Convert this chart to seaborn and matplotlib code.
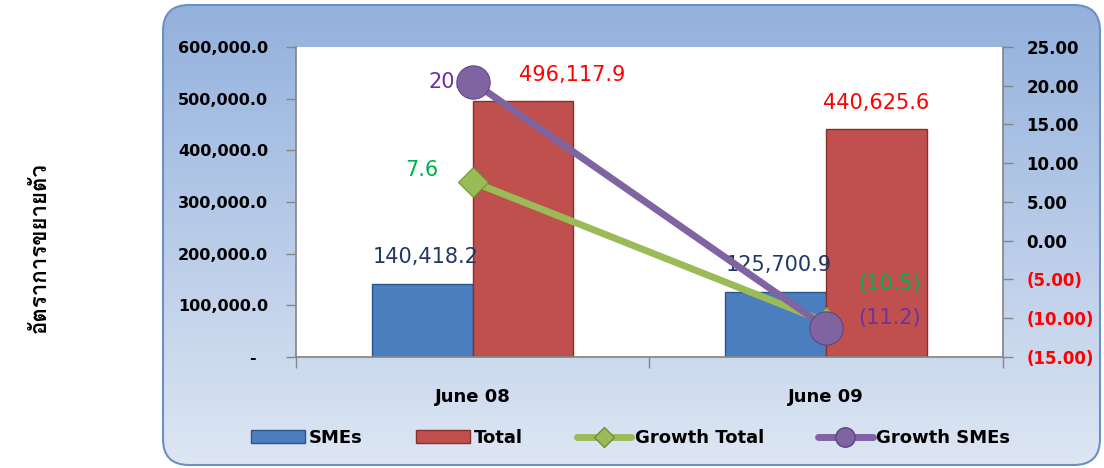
import numpy as np
import pandas as pd
import matplotlib
matplotlib.use("Agg")
import matplotlib.pyplot as plt
import seaborn as sns
from matplotlib import font_manager
from matplotlib.ft2font import FT2Font
from matplotlib.patches import FancyBboxPatch, Patch
from matplotlib.lines import Line2D
from matplotlib.colors import LinearSegmentedColormap

# data
months = ["June 08", "June 09"]
smes = [140418.2, 125700.9]
total = [496117.9, 440625.6]
growth_total = [7.6, -10.5]
growth_smes = [20.5, -11.2]
left_ticks = [0, 100000, 200000, 300000, 400000, 500000, 600000]
right_ticks = [-15, -10, -5, 0, 5, 10, 15, 20, 25]
y_title = "อัตราการขยายตัว"
legend_labels = ["SMEs", "Total", "Growth Total", "Growth SMEs"]

sns.set_theme(style="white")
plt.rcParams['font.family'] = ['DejaVu Sans']
for key in ['text.color', 'xtick.color', 'ytick.color', 'axes.labelcolor']:
    plt.rcParams[key] = 'black'

BLUE, RED = "#4a7ebf", "#c0504d"
GREEN, PURPLE = "#9bbb59", "#8064a2"
GRAY = "#868686"


def thai_family():
    # look for any installed font that carries Thai glyphs
    need = [ord(c) for c in set(y_title)]
    for f in font_manager.fontManager.ttflist:
        try:
            cmap = FT2Font(f.fname).get_charmap()
        except Exception:
            continue
        if all(c in cmap for c in need):
            return f.name
    return None


def pct(v):
    return f"({abs(v):.1f})" if v < 0 else f"{v:.1f}"


fig = plt.figure(figsize=(11.04, 4.68), dpi=100)

# --- rounded gradient panel behind the chart ---
bg = fig.add_axes([0, 0, 1, 1], zorder=-10)
bg.set_xlim(0, 1104)
bg.set_ylim(468, 0)
bg.axis('off')
box = FancyBboxPatch((163, 5), 937, 460, boxstyle="round,pad=0,rounding_size=26",
                     facecolor="none", edgecolor="#6d8fc7", lw=1.5, zorder=2)
bg.add_patch(box)
cmap = LinearSegmentedColormap.from_list("panel", ["#93b1dd", "#dde6f3"])
im = bg.imshow(np.linspace(0, 1, 256).reshape(-1, 1), extent=(163, 1100, 465, 5),
               aspect='auto', cmap=cmap, zorder=1)
im.set_clip_path(box)

# --- bars ---
ax = fig.add_axes([0.268, 0.2372, 0.6405, 0.6624])
ax.set_facecolor("white")
df = pd.DataFrame({
    "Month": months * 2,
    "Series": ["SMEs"] * len(months) + ["Total"] * len(months),
    "Value": smes + total,
})
sns.barplot(data=df, x="Month", y="Value", hue="Series", hue_order=["SMEs", "Total"],
            palette={"SMEs": BLUE, "Total": RED}, width=0.57, gap=0,
            saturation=1, legend=False, ax=ax)
for cont, ec in zip(ax.containers, ["#2c5587", "#8a2e2c"]):
    for p in cont:
        p.set_edgecolor(ec)
        p.set_linewidth(1)

ax.set_ylim(0, 600000)
ax.set_yticks(left_ticks)
ax.set_yticklabels(["-  " if v == 0 else f"{v:,.1f}" for v in left_ticks],
                   fontweight='bold', fontsize=11.5)
ax.tick_params(axis='y', length=7, width=1, color=GRAY, pad=13, left=True)
ax.set_xlabel("")
ax.set_ylabel("")

# value labels on bars
for i, v in enumerate(smes):
    ax.annotate(f"{v:,.1f}", (i - 0.1425, v), xytext=(3, 27), textcoords='offset pixels',
                ha='center', va='center', fontsize=15, color="#1f3864")
for i, (v, dx) in enumerate(zip(total, [49, 0])):
    ax.annotate(f"{v:,.1f}", (i + 0.1425, v), xytext=(dx, 26), textcoords='offset pixels',
                ha='center', va='center', fontsize=15, color="#ff0000")

# --- growth lines on the right axis ---
ax2 = ax.twinx()
x_pos = np.arange(len(months))
sns.lineplot(x=x_pos, y=growth_total, ax=ax2, color=GREEN, lw=5, marker="D",
             markersize=15, markerfacecolor=GREEN, markeredgecolor="#6f8f35", legend=False)
sns.lineplot(x=x_pos, y=growth_smes, ax=ax2, color=PURPLE, lw=5, marker="o",
             markersize=24, markerfacecolor=PURPLE, markeredgecolor="#5b4580", legend=False)
ax2.set_ylim(-15, 25)
ax2.set_yticks(right_ticks)
ax2.set_yticklabels([f"({abs(v):.2f})" if v < 0 else f"{v:.2f}" for v in right_ticks],
                    fontweight='bold', fontsize=12)
for lbl, v in zip(ax2.get_yticklabels(), right_ticks):
    lbl.set_color("#ff0000" if v < 0 else "black")
ax2.tick_params(axis='y', length=7, width=1, color=GRAY, pad=10, right=True)
ax2.set_ylabel("")

# growth labels
for i, (v, ha, off) in enumerate(zip(growth_total, ["right", "left"], [(-34, 12), (32, 38)])):
    ax2.annotate(pct(v), (i, v), xytext=off, textcoords='offset pixels', ha=ha, va='center',
                 fontsize=15, color="#00b050")
for i, (v, ha, off) in enumerate(zip(growth_smes, ["right", "left"], [(2, 0), (32, 10)])):
    ax2.annotate(pct(v), (i, v), xytext=off, textcoords='offset pixels', ha=ha, va='center',
                 fontsize=15, color="#7030a0", zorder=1)

# x axis
ax.set_xlim(-0.5, 1.5)
ax.set_xticks(x_pos)
ax.set_xticklabels(months, fontweight='bold', fontsize=13)
ax.set_xticks([-0.5, 0.5, 1.5], minor=True)
ax.tick_params(axis='x', which='major', length=0, pad=22)
ax.tick_params(axis='x', which='minor', length=8, width=1, color=GRAY, bottom=True)

for s in ["top", "right"]:
    ax.spines[s].set_visible(False)
for s in ["left", "bottom"]:
    ax.spines[s].set_color(GRAY)
for s in ["left", "top", "bottom"]:
    ax2.spines[s].set_visible(False)
ax2.spines["right"].set_color(GRAY)

# y title on the far left
fam = thai_family()
fig.text(40 / 1104, 1 - 248 / 468, y_title, rotation=90, ha='center', va='center',
         fontsize=16, fontweight='bold',
         family=[fam, 'DejaVu Sans'] if fam else ['DejaVu Sans'])

# legend
handles = [
    Patch(facecolor=BLUE, edgecolor="#2c5587"),
    Patch(facecolor=RED, edgecolor="#8a2e2c"),
    Line2D([], [], color=GREEN, lw=5, marker="D", markersize=10,
           markerfacecolor=GREEN, markeredgecolor="#6f8f35"),
    Line2D([], [], color=PURPLE, lw=5, marker="o", markersize=14,
           markerfacecolor=PURPLE, markeredgecolor="#5b4580"),
]
fig.legend(handles, legend_labels, loc='center', bbox_to_anchor=(0.571, 0.064), ncol=4,
           frameon=False, prop={'size': 13, 'weight': 'bold'}, handlelength=3,
           columnspacing=3, handletextpad=0.2)

fig.savefig("out.png", dpi=100)
